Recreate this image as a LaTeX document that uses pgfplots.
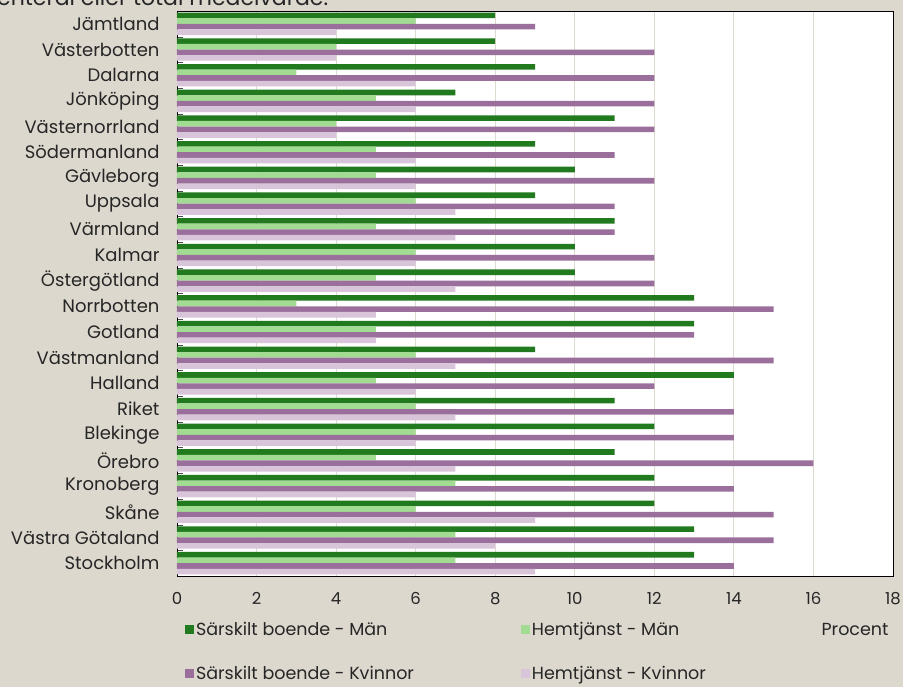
\documentclass[border=0pt]{standalone}
\usepackage{pgfplots}
\pgfplotsset{compat=1.18}
\usepackage{fontspec}
\setmainfont{Poppins}
\definecolor{bg}{RGB}{221,216,206}
\definecolor{gridc}{RGB}{222,218,208}
\definecolor{sbman}{RGB}{34,122,30}
\definecolor{htman}{RGB}{162,220,146}
\definecolor{sbkv}{RGB}{154,111,156}
\definecolor{htkv}{RGB}{216,197,218}
\pgfplotstableread{
idx sbm htm sbk htk
0 8 6 9 4
1 8 4 12 4
2 9 3 12 6
3 7 5 12 6
4 11 4 12 4
5 9 5 11 6
6 10 5 12 6
7 9 6 11 7
8 11 5 11 7
9 10 6 12 6
10 10 5 12 7
11 13 3 15 5
12 13 5 13 5
13 9 6 15 7
14 14 5 12 6
15 11 6 14 7
16 12 6 14 6
17 11 5 16 7
18 12 7 14 6
19 12 6 15 9
20 13 7 15 8
21 13 7 14 9
}\data
\begin{document}
\begin{tikzpicture}[x=1pt,y=1pt]
\fill[bg] (0,0) rectangle (903,687);
\useasboundingbox (0,0) rectangle (903,687);
\node[anchor=base west, font=\fontsize{22}{26}\selectfont, inner sep=0, text=black!85] at (-3,681) {enteral eller total medelvärde.};
\begin{axis}[
  at={(177pt,111pt)}, anchor=south west,
  scale only axis, width=716pt, height=565pt,
  xbar=0pt, bar width=5.6pt,
  xmin=0, xmax=18, ymin=-0.5, ymax=21.5, y dir=reverse,
  xtick={0,2,...,18},
  xmajorgrids, grid style={color=gridc, line width=1pt},
  ytick={0,...,21},
  yticklabels={Jämtland,Västerbotten,Dalarna,Jönköping,Västernorrland,Södermanland,Gävleborg,Uppsala,Värmland,Kalmar,Östergötland,Norrbotten,Gotland,Västmanland,Halland,Riket,Blekinge,Örebro,Kronoberg,Skåne,Västra Götaland,Stockholm\ },
  major tick length=0pt,
  minor ytick={-0.5,0.5,...,21.5}, minor tick length=6pt,
  tick align=inside, tick pos=left,
  minor tick style={black!70},
  axis background/.style={fill=white},
  axis line style={black, line width=0.9pt},
  tick label style={text=black!85},
  yticklabel style={font=\fontsize{18}{21}\selectfont, xshift=-14pt},
  xticklabel style={font=\fontsize{16.5}{19}\selectfont, yshift=-13pt},
  /pgf/number format/assume math mode=true,
  xlabel={Procent},
  xlabel style={at={(axis description cs:0.947,-0.094)}, anchor=center, font=\fontsize{17.5}{20}\selectfont, text=black!85},
  legend columns=2,
  legend style={at={(axis description cs:0.011,-0.077)}, anchor=north west, draw=none, fill=none,
    font=\fontsize{17.5}{20}\selectfont, text=black!85, inner sep=0pt, row sep=26pt,
    /tikz/every even column/.append style={column sep=105pt}},
  legend cell align=left,
  legend image code/.code={\fill[#1] (0pt,-4.5pt) rectangle (9pt,4.5pt);},
]
\addplot[draw=none, fill=sbman, bar shift=8.4pt] table[x=sbm, y=idx]{\data};
\addlegendentry{Särskilt boende - Män}
\addplot[draw=none, fill=htman, bar shift=2.8pt] table[x=htm, y=idx]{\data};
\addlegendentry{Hemtjänst - Män}
\addplot[draw=none, fill=sbkv, bar shift=-2.8pt] table[x=sbk, y=idx]{\data};
\addlegendentry{Särskilt boende - Kvinnor}
\addplot[draw=none, fill=htkv, bar shift=-8.4pt] table[x=htk, y=idx]{\data};
\addlegendentry{Hemtjänst - Kvinnor}
\end{axis}
\end{tikzpicture}
\end{document}
